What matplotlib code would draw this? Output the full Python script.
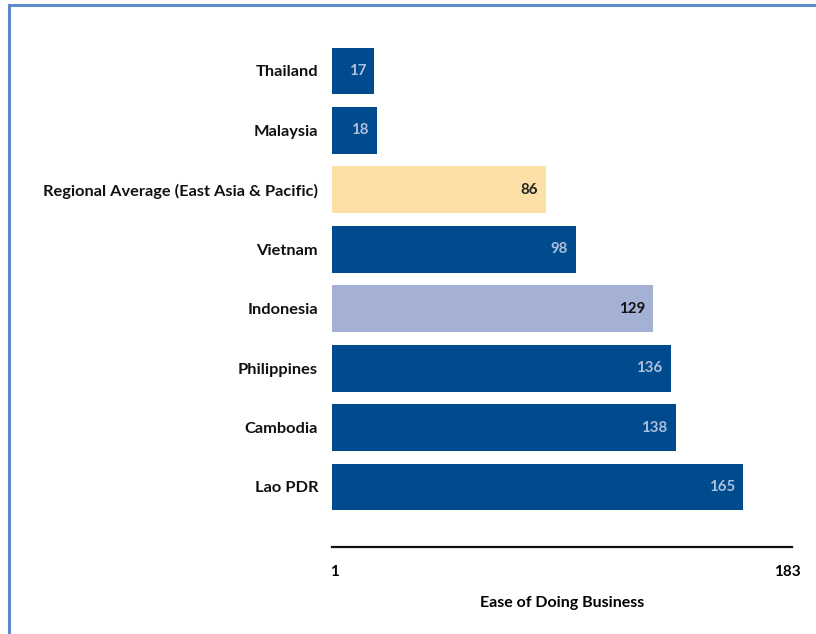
import matplotlib
matplotlib.use("Agg")
import matplotlib.pyplot as plt
from matplotlib.lines import Line2D

# data
countries = ["Thailand", "Malaysia", "Regional Average (East Asia & Pacific)",
             "Vietnam", "Indonesia", "Philippines", "Cambodia", "Lao PDR"]
ranks = [17, 18, 86, 98, 129, 136, 138, 165]
bar_colors = ["#004B8D", "#004B8D", "#FDDFA8", "#004B8D",
              "#A4B1D4", "#004B8D", "#004B8D", "#004B8D"]
label_colors = ["#AFC0DD", "#AFC0DD", "#222222", "#AFC0DD",
                "#111111", "#AFC0DD", "#AFC0DD", "#AFC0DD"]
scale_ticks = [1, 183]
scale_max = 184.7

plt.rcParams['font.family'] = ['Lato', 'DejaVu Sans']
plt.rcParams['font.weight'] = 'bold'

fig = plt.figure(figsize=(8.16, 6.34), dpi=100)
W, H = 816, 634
ax = fig.add_axes([332 / W, 1 - 547 / H, (792 - 332) / W, (547 - 20) / H])

ypos = list(range(len(countries)))
ax.barh(ypos, ranks, height=0.79, color=bar_colors, edgecolor="none")

# value labels inside bar ends
for y, v, c in zip(ypos, ranks, label_colors):
    ax.text(v - 3.2, y, str(v), ha="right", va="center",
            fontsize=10.8, color=c, fontweight="bold")

ax.set_yticks(ypos)
ax.set_yticklabels(countries, fontsize=11.8, fontweight="bold", color="#111111")
ax.set_ylim(8.01, -0.858)
ax.set_xlim(0, scale_max)

ax.set_xticks(scale_ticks)
ax.set_xticklabels([str(t) for t in scale_ticks], fontsize=11, fontweight="bold")
ax.tick_params(axis="both", length=0)
ax.tick_params(axis="x", pad=13)
ax.tick_params(axis="y", pad=10)
ax.set_xlabel("Ease of Doing Business", fontsize=11.5, fontweight="bold", labelpad=12)

for s in ["top", "right", "left"]:
    ax.spines[s].set_visible(False)
ax.spines["bottom"].set_linewidth(1.6)
ax.spines["bottom"].set_color("#111111")

# outer frame (top and left edges)
frame_col = "#5B8BC9"
fig.add_artist(Line2D([9 / W, 1], [1 - 5 / H, 1 - 5 / H], color=frame_col, lw=2.2,
                      transform=fig.transFigure))
fig.add_artist(Line2D([9 / W, 9 / W], [0, 1 - 5 / H], color=frame_col, lw=2.2,
                      transform=fig.transFigure))

fig.savefig("out.png", dpi=100)
